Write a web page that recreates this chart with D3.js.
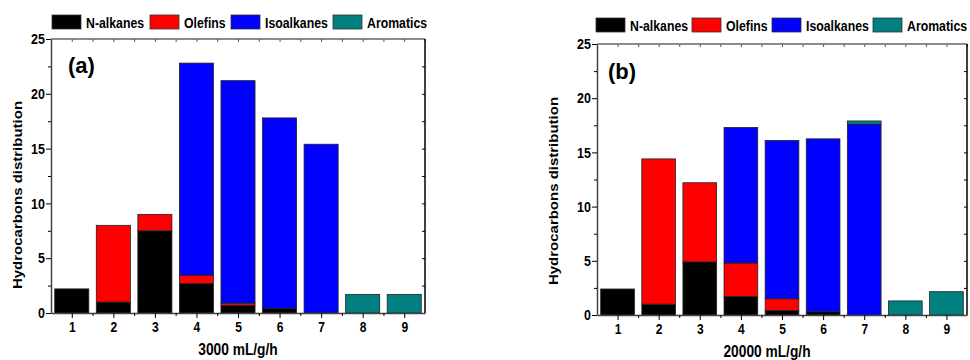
<!DOCTYPE html>
<html>
<head>
<meta charset="UTF-8">
<title>Hydrocarbons distribution</title>
<script src="https://cdn.jsdelivr.net/npm/d3@7"></script>
<style>
body { margin: 0; background: #fff; }
svg text { font-family: "Liberation Sans", Arial, sans-serif; font-weight: bold; }
</style>
</head>
<body>
<div id="vis"></div>
<script>
// data
var categories = [1, 2, 3, 4, 5, 6, 7, 8, 9];
var seriesNames = ["N-alkanes", "Olefins", "Isoalkanes", "Aromatics"];
var seriesColors = ["#000000", "#ff0000", "#0000ff", "#008080"];
var yTicks = [0, 5, 10, 15, 20, 25];

// 3000 mL/g/h
var aNalk = [2.2, 1.0, 7.5, 2.7, 0.7, 0.4, 0, 0, 0];
var aOlef = [0, 7.0, 1.5, 0.75, 0.2, 0, 0, 0, 0];
var aIso  = [0, 0, 0, 19.35, 20.3, 17.4, 15.4, 0, 0];
var aArom = [0, 0, 0, 0, 0, 0, 0, 1.7, 1.7];

// 20000 mL/g/h
var bNalk = [2.4, 1.0, 4.9, 1.7, 0.4, 0.3, 0, 0, 0];
var bOlef = [0, 13.4, 7.3, 3.1, 1.1, 0, 0, 0, 0];
var bIso  = [0, 0, 0, 12.5, 14.6, 15.95, 17.6, 0, 0];
var bArom = [0, 0, 0, 0, 0, 0, 0.3, 1.3, 2.15];

var svg = d3.select("#vis").append("svg")
  .attr("width", 970)
  .attr("height", 360);

var sq = 0.86; // the original lettering is a bit narrow

function rows(n, o, i, a) {
  return categories.map(function(c, k) {
    return {cat: c, "N-alkanes": n[k], "Olefins": o[k], "Isoalkanes": i[k], "Aromatics": a[k]};
  });
}

function panel(opt) {
  var x = d3.scaleLinear().domain([0.5, 9.5]).range([opt.left, opt.right]);
  var y = d3.scaleLinear().domain([0, 25]).range([opt.bottom, opt.top]);
  var g = svg.append("g");

  var stack = d3.stack().keys(seriesNames)(opt.data);
  var bw = (x(1) - x(0)) * 0.82;

  stack.forEach(function(layer, li) {
    g.selectAll(null)
      .data(layer.filter(function(d) { return d[1] - d[0] > 0; }))
      .enter().append("rect")
      .attr("x", function(d) { return x(d.data.cat) - bw / 2; })
      .attr("y", function(d) { return y(d[1]); })
      .attr("width", bw)
      .attr("height", function(d) { return y(d[0]) - y(d[1]); })
      .attr("fill", seriesColors[li])
      .attr("stroke", "#222")
      .attr("stroke-width", 0.8);
  });

  // bottom axis
  var xb = d3.axisBottom(x).tickValues(categories).tickSize(5).tickSizeOuter(0).tickPadding(4);
  var gx = g.append("g").attr("transform", "translate(0," + opt.bottom + ")").call(xb);
  gx.selectAll("text").attr("font-size", 14).attr("fill", "#000")
    .attr("transform", "scale(" + sq + ",1)");
  // minor ticks between bars
  g.append("g").attr("transform", "translate(0," + opt.bottom + ")")
    .call(d3.axisBottom(x).tickValues(d3.range(1.5, 9.5, 1)).tickSize(3).tickSizeOuter(0).tickFormat(""))
    .call(function(s) { s.select(".domain").remove(); });

  // left axis
  var gy = g.append("g").attr("transform", "translate(" + opt.left + ",0)")
    .call(d3.axisLeft(y).tickValues(yTicks).tickSize(5).tickSizeOuter(0).tickPadding(2));
  gy.selectAll("text").attr("font-size", 14.5).attr("fill", "#000")
    .attr("transform", "scale(" + sq + ",1)");
  g.append("g").attr("transform", "translate(" + opt.left + ",0)")
    .call(d3.axisLeft(y).tickValues(d3.range(2.5, 25, 5)).tickSize(3).tickFormat(""))
    .call(function(s) { s.select(".domain").remove(); });

  // top axis, ticks inward
  g.append("g").attr("transform", "translate(0," + opt.top + ")")
    .call(d3.axisBottom(x).tickValues(d3.range(1, 10, 0.5)).tickSize(3).tickSizeOuter(0).tickFormat(""))
    .call(function(s) { s.select(".domain").remove(); })
    .selectAll("line").attr("stroke", "#555");
  g.append("line")
    .attr("x1", opt.left).attr("x2", opt.right)
    .attr("y1", opt.top).attr("y2", opt.top)
    .attr("stroke", "#666").attr("stroke-width", 1.5);

  // right axis, ticks inward
  g.append("g").attr("transform", "translate(" + opt.right + ",0)")
    .call(d3.axisLeft(y).tickValues(d3.range(2.5, 25, 2.5)).tickSize(3).tickFormat(""))
    .call(function(s) { s.select(".domain").remove(); });
  g.append("line")
    .attr("x1", opt.right).attr("x2", opt.right)
    .attr("y1", opt.top).attr("y2", opt.bottom)
    .attr("stroke", "#000").attr("stroke-width", 1.5);

  g.selectAll(".domain").attr("stroke-width", 1.5).attr("stroke", "#444");

  // panel letter
  g.append("text")
    .attr("x", opt.letX).attr("y", opt.letY)
    .attr("font-size", 22)
    .text(opt.letter);

  // axis titles
  g.append("text")
    .attr("transform", "translate(" + opt.xtx + "," + (opt.bottom + 42) + ") scale(" + sq + ",1)")
    .attr("text-anchor", "middle").attr("font-size", 16)
    .text(opt.xTitle);
  g.append("text")
    .attr("transform", "translate(" + opt.ytx + "," + opt.yty + ") scale(" + sq + ",1) rotate(-90)")
    .attr("text-anchor", "middle").attr("font-size", 15)
    .text("Hydrocarbons distribution");

  // legend
  var lg = g.append("g").attr("transform", "translate(" + opt.legX + "," + opt.legY + ")");
  var offs = opt.legOffsets;
  seriesNames.forEach(function(name, i) {
    lg.append("rect")
      .attr("x", offs[i]).attr("y", 0)
      .attr("width", 29).attr("height", 14)
      .attr("fill", seriesColors[i]).attr("stroke", "#333").attr("stroke-width", 0.8);
    lg.append("text")
      .attr("transform", "translate(" + (offs[i] + 34) + ",12.5) scale(" + sq + ",1)")
      .attr("font-size", 14.3)
      .text(name);
  });
}

panel({
  data: rows(aNalk, aOlef, aIso, aArom),
  left: 51, right: 425, top: 39, bottom: 313,
  letter: "(a)", letX: 68, letY: 73,
  xTitle: "3000 mL/g/h", xtx: 238,
  ytx: 22, yty: 195,
  legX: 52, legY: 15, legOffsets: [0, 98, 179, 281]
});

panel({
  data: rows(bNalk, bOlef, bIso, bArom),
  left: 597, right: 967, top: 44, bottom: 315,
  letter: "(b)", letX: 608, letY: 79,
  xTitle: "20000 mL/g/h", xtx: 767,
  ytx: 558, yty: 191,
  legX: 596, legY: 18, legOffsets: [0, 96, 176, 277]
});
</script>
</body>
</html>
